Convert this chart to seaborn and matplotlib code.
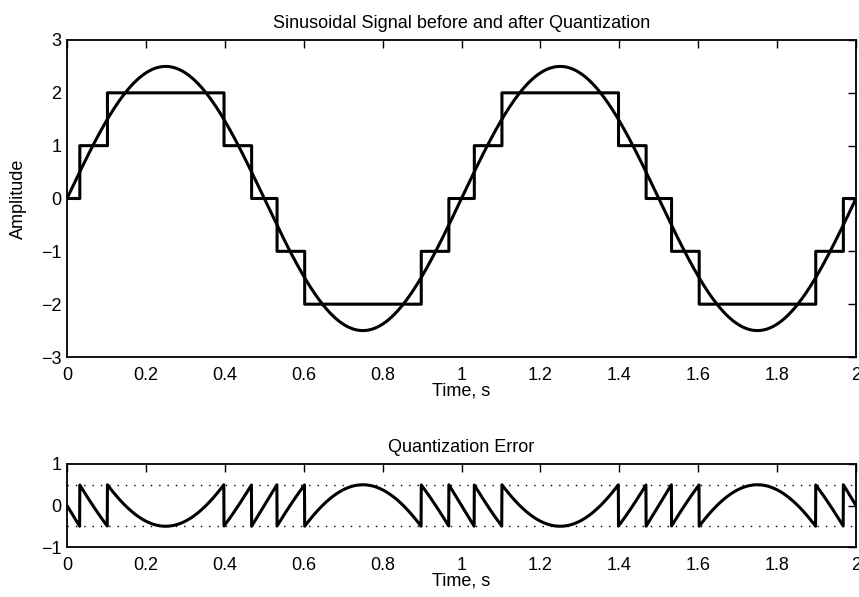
import numpy as np
import pandas as pd
import matplotlib
matplotlib.use("Agg")
import matplotlib.pyplot as plt
import seaborn as sns

# --- data parameters (signal definition) ---
amplitude = 2.5          # peak amplitude of the sinusoid
frequency_hz = 1.0       # 1 cycle per second
duration_s = 2.0
n_samples = 4001
quant_step = 1.0
error_bounds = [-0.5, 0.5]

top_yticks = [-3, -2, -1, 0, 1, 2, 3]
bot_yticks = [-1, 0, 1]
xticks = [0, 0.2, 0.4, 0.6, 0.8, 1.0, 1.2, 1.4, 1.6, 1.8, 2.0]
xtick_labels = ["0", "0.2", "0.4", "0.6", "0.8", "1", "1.2", "1.4", "1.6", "1.8", "2"]

t = np.linspace(0, duration_s, n_samples)
x = amplitude * np.sin(2 * np.pi * frequency_hz * t)
xq = quant_step * np.round(x / quant_step)
err = xq - x

df = pd.DataFrame({"t": t, "x": x, "xq": xq, "err": err})

sns.set_style("white")
plt.rcParams["font.family"] = ["Liberation Sans", "DejaVu Sans"]
plt.rcParams["axes.unicode_minus"] = True
plt.rcParams["text.color"] = "black"
plt.rcParams["axes.labelcolor"] = "black"

fig = plt.figure(figsize=(8.59, 5.97), dpi=100)
ax1 = fig.add_axes([67/859, 1-357/597, (856-67)/859, (357-40)/597])
ax2 = fig.add_axes([67/859, 1-547/597, (856-67)/859, (547-464)/597])

lw = 2.2
sns.lineplot(data=df, x="t", y="x", ax=ax1, color="black", lw=lw, estimator=None, sort=False)
sns.lineplot(data=df, x="t", y="xq", ax=ax1, color="black", lw=lw, estimator=None,
             sort=False, drawstyle="steps-post")
sns.lineplot(data=df, x="t", y="err", ax=ax2, color="black", lw=lw, estimator=None, sort=False)
for b in error_bounds:
    ax2.axhline(b, color="black", lw=1.0, ls=(0, (1, 5)))

fs = 13
for ax, yt in ((ax1, top_yticks), (ax2, bot_yticks)):
    ax.set_xlim(0, 2)
    ax.set_ylim(yt[0], yt[-1])
    ax.set_xticks(xticks)
    ax.set_xticklabels(xtick_labels)
    ax.set_yticks(yt)
    ax.set_yticklabels([str(v).replace("-", "\u2212") for v in yt])
    ax.tick_params(direction="in", length=6, width=1, top=True, right=True,
                   labelsize=fs, colors="black", labelcolor="black")
    ax.tick_params(axis="x", pad=7)
    ax.tick_params(axis="y", pad=4)
    for s in ax.spines.values():
        s.set_visible(True)
        s.set_color("black")
        s.set_linewidth(1.3)
    ax.set_xlabel("Time, s", fontsize=fs, labelpad=-1, color="black")

ax1.set_ylabel("Amplitude", fontsize=fs, labelpad=10, color="black")
ax2.set_ylabel("")
ax1.set_title("Sinusoidal Signal before and after Quantization", fontsize=fs, pad=9, color="black")
ax2.set_title("Quantization Error", fontsize=fs, pad=9, color="black")

fig.savefig("out.png", dpi=100)
